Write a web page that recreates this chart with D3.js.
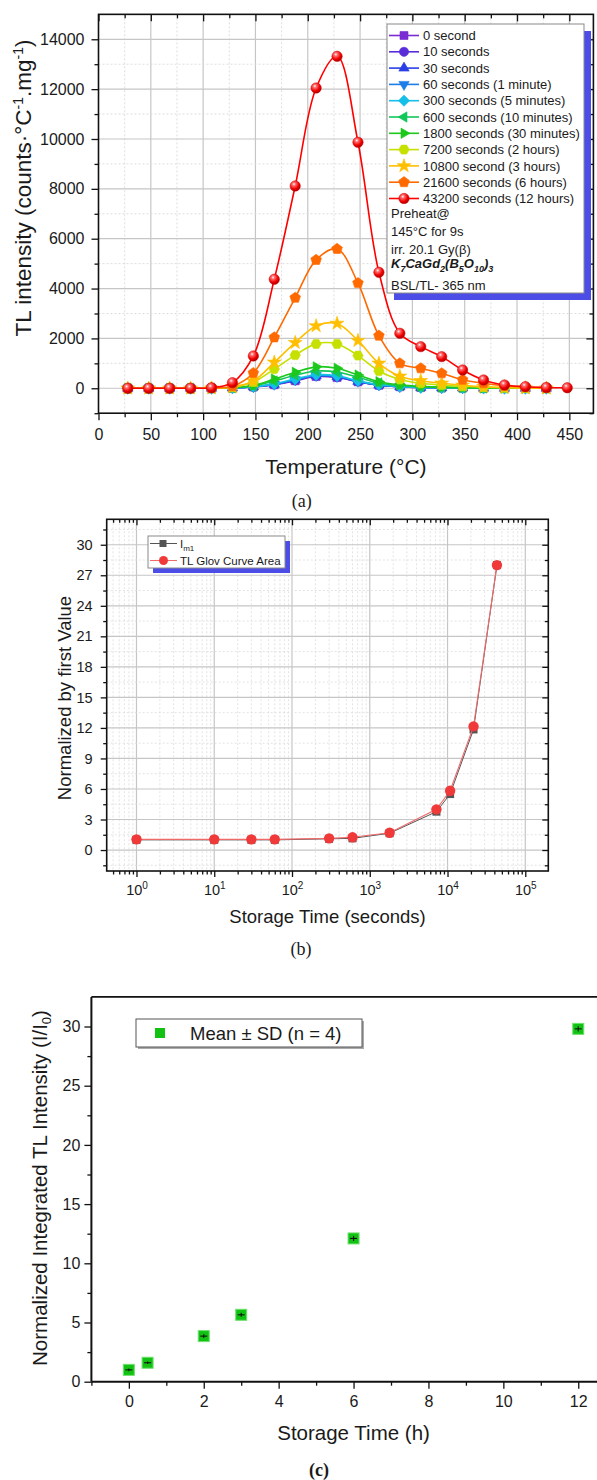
<!DOCTYPE html>
<html><head><meta charset="utf-8">
<script src="https://cdn.jsdelivr.net/npm/d3@7"></script>
<style>
body{margin:0;background:#fff}
svg{display:block}
</style>
</head><body>
<svg id="fig" width="597" height="1480" font-family="'Liberation Sans', Arial, sans-serif" fill="#1a1a1a"></svg>
<script>
// ---------------- DATA ----------------
// Panel (a): TL glow curves
const temps = [28,48,68,88,108,128,148,168,188,208,228,248,268,288,308,328,348,368,388,408,428];
const tempsRed = [28,48,68,88,108,128,148,168,188,208,228,248,268,288,308,328,348,368,388,408,428,448];
const tl0s     = [0,0,0,0,0,10,50,140,300,470,430,260,120,60,30,20,10,5,0,0,0];
const tl10s    = [0,0,0,0,0,12,55,150,320,490,450,270,125,62,32,20,10,5,0,0,0];
const tl30s    = [0,0,0,0,0,12,58,155,330,500,460,275,128,64,33,21,11,5,0,0,0];
const tl60s    = [0,0,0,0,0,13,60,160,340,510,470,280,130,66,34,22,12,6,0,0,0];
const tl300s   = [0,0,0,0,0,15,65,175,370,540,500,300,140,70,36,23,12,6,0,0,0];
const tl600s   = [0,0,0,0,0,20,90,290,520,690,650,440,215,110,60,35,20,10,5,0,0];
const tl1800s  = [0,0,0,0,0,25,110,370,640,860,800,530,265,140,75,45,25,12,5,0,0];
const tl7200s  = [0,0,0,0,5,40,250,770,1330,1780,1780,1310,690,350,200,130,80,45,20,10,0];
const tl10800s = [0,0,0,0,5,50,290,1040,1830,2500,2600,1910,1000,480,300,200,120,60,30,10,0];
const tl21600s = [0,0,0,0,10,80,610,2040,3630,5150,5590,4220,2110,1000,800,600,340,200,100,50,20];
const tl43200s = [0,0,0,0,20,225,1296,4372,8115,12046,13317,9868,4653,2206,1669,1268,734,333,132,64,30,20];
const seriesNames = ["0 second","10 seconds","30 seconds","60 seconds (1 minute)","300 seconds (5 minutes)",
  "600 seconds (10 minutes)","1800 seconds (30 minutes)","7200 seconds (2 hours)","10800 second (3 hours)",
  "21600 seconds (6 hours)","43200 seconds (12 hours)"];
const seriesColors = ["#7a2bd2","#5a2cd8","#2a40e6","#1d7de8","#14bfe8","#12c75a","#1cc81c","#c6e000","#ffbf00","#ff6a00","#ff0000"];
const seriesShapes = ["square","circle","triUp","triDown","diamond","triLeft","triRight","hexagon","star","pentagon","sphere"];
const xTicksA = [0,50,100,150,200,250,300,350,400,450];
const yTicksA = [0,2000,4000,6000,8000,10000,12000,14000];
const legendNotes = ["Preheat@","145°C for 9s","irr. 20.1 Gy(β)"];

// Panel (b): normalized values
const storageSec = [1,10,30,60,300,600,1800,7200,10800,21600,43200];
const im1 =        [1.0,1.0,1.0,1.0,1.1,1.15,1.65,3.77,5.5,11.85,28.0];
const glowArea =   [1.05,1.05,1.05,1.05,1.15,1.25,1.7,4.0,5.83,12.15,28.0];
const yTicksB = [0,3,6,9,12,15,18,21,24,27,30];
const xTicksB = [1,10,100,1000,10000,100000];

// Panel (c): normalized integrated intensity
const hours = [0,0.5,2,3,6,12];
const meanNorm = [1.0,1.6,3.85,5.65,12.1,29.8];
const sdNorm = [0.2,0.2,0.25,0.25,0.3,0.3];
const xTicksC = [0,2,4,6,8,10,12];
const yTicksC = [0,5,10,15,20,25,30];

// ---------------- HELPERS ----------------
const SANS = "'Liberation Sans', Arial, sans-serif";
const SERIF = "'Liberation Serif', 'Times New Roman', serif";
const svg = d3.select("#fig");
const defs = svg.append("defs");
const rg = defs.append("radialGradient").attr("id","sphere").attr("cx","38%").attr("cy","32%").attr("r","70%");
rg.append("stop").attr("offset","0%").attr("stop-color","#ffffff");
rg.append("stop").attr("offset","22%").attr("stop-color","#ff7070");
rg.append("stop").attr("offset","65%").attr("stop-color","#f20000");
rg.append("stop").attr("offset","100%").attr("stop-color","#a80000");

function poly(n, r, rot){
  const p=[];
  for(let i=0;i<n;i++){const a=rot+i*2*Math.PI/n;p.push([r*Math.cos(a),r*Math.sin(a)]);}
  return "M"+p.map(q=>q[0].toFixed(2)+","+q[1].toFixed(2)).join("L")+"Z";
}
function shapePath(s){
  switch(s){
    case "square": return d3.symbol(d3.symbolSquare,64)();
    case "circle": return d3.symbol(d3.symbolCircle,66)();
    case "triUp": return poly(3,6,-Math.PI/2);
    case "triDown": return poly(3,6,Math.PI/2);
    case "triLeft": return poly(3,6,Math.PI);
    case "triRight": return poly(3,6,0);
    case "diamond": return poly(4,5.6,-Math.PI/2);
    case "hexagon": return poly(6,5.2,0);
    case "pentagon": return poly(5,5.6,-Math.PI/2);
    case "star": return d3.symbol(d3.symbolStar,60)();
    default: return d3.symbol(d3.symbolCircle,80)();
  }
}
function drawMarker(g, shape, color, x, y){
  if(shape==="sphere"){
    g.append("circle").attr("cx",x).attr("cy",y).attr("r",5.2).attr("fill","url(#sphere)").attr("stroke","#d00000").attr("stroke-width",0.5);
  } else {
    g.append("path").attr("d",shapePath(shape)).attr("transform",`translate(${x},${y})`).attr("fill",color).attr("stroke",color).attr("stroke-width",0.6);
  }
}
function styleAxis(g, fs){
  g.attr("font-family",null).attr("font-size",null);
  g.select(".domain").remove();
  g.selectAll(".tick line").attr("stroke","#111").attr("stroke-width",1.3);
  g.selectAll(".tick text").attr("font-size",fs).attr("font-family",SANS).attr("fill","#1a1a1a");
}

// ---------------- PANEL (a) ----------------
const A = {l:98.5, r:593.4, t:14.35, b:413.2};
const xa = d3.scaleLinear().domain([0,473]).range([A.l,A.r]);
const ya = d3.scaleLinear().domain([-1000,15000]).range([A.b,A.t]);
const gA = svg.append("g");
defs.append("clipPath").attr("id","clipA").append("rect").attr("x",A.l).attr("y",A.t).attr("width",A.r-A.l).attr("height",A.b-A.t);

gA.append("g").selectAll("line").data(d3.range(25,473,25)).join("line")
  .attr("x1",d=>xa(d)).attr("x2",d=>xa(d)).attr("y1",A.t).attr("y2",A.b)
  .attr("stroke",d=>d%50===0?"#c6c6c6":"#dadada").attr("stroke-width",d=>d%50===0?1.2:0.9)
  .attr("stroke-dasharray",d=>d%50===0?null:"2,2");
gA.append("g").selectAll("line").data(d3.range(0,15000,1000)).join("line")
  .attr("y1",d=>ya(d)).attr("y2",d=>ya(d)).attr("x1",A.l).attr("x2",A.r)
  .attr("stroke",d=>d%2000===0?"#c6c6c6":"#dadada").attr("stroke-width",d=>d%2000===0?1.2:0.9)
  .attr("stroke-dasharray",d=>d%2000===0?null:"2,2");

const seriesA = [tl0s,tl10s,tl30s,tl60s,tl300s,tl600s,tl1800s,tl7200s,tl10800s,tl21600s,tl43200s].map((v,i)=>({
  name:seriesNames[i], color:seriesColors[i], shape:seriesShapes[i], x: i===10?tempsRed:temps, y:v}));
const lineA = d3.line().x(d=>xa(d[0])).y(d=>ya(d[1])).curve(d3.curveCatmullRom.alpha(0.5));
const plotA = gA.append("g").attr("clip-path","url(#clipA)");
seriesA.forEach(s=>{
  const pts = s.x.map((t,i)=>[t,s.y[i]]);
  plotA.append("path").attr("d",lineA(pts)).attr("fill","none").attr("stroke",s.color).attr("stroke-width",1.6);
  const mg = plotA.append("g");
  pts.forEach(p=>drawMarker(mg,s.shape,s.color,xa(p[0]),ya(p[1])));
});

// axes (a)
const fmtInt = d3.format("d");
gA.append("g").attr("transform",`translate(0,${A.b})`).call(d3.axisBottom(xa).tickValues(xTicksA).tickSize(7).tickPadding(8).tickFormat(fmtInt)).call(g=>styleAxis(g,16));
gA.append("g").attr("transform",`translate(0,${A.b})`).call(d3.axisBottom(xa).tickValues(d3.range(25,473,50)).tickSize(4).tickFormat("")).call(g=>styleAxis(g,16));
gA.append("g").attr("transform",`translate(${A.l},0)`).call(d3.axisLeft(ya).tickValues(yTicksA).tickSize(7).tickPadding(7).tickFormat(fmtInt)).call(g=>styleAxis(g,16));
gA.append("g").attr("transform",`translate(${A.l},0)`).call(d3.axisLeft(ya).tickValues(d3.range(-1000,15000,2000)).tickSize(4).tickFormat("")).call(g=>styleAxis(g,16));
gA.append("g").attr("transform",`translate(0,${A.t})`).call(d3.axisTop(xa).tickValues(xTicksA).tickSize(-7).tickFormat("")).call(g=>styleAxis(g,16));
gA.append("g").attr("transform",`translate(0,${A.t})`).call(d3.axisTop(xa).tickValues(d3.range(25,473,50)).tickSize(-4).tickFormat("")).call(g=>styleAxis(g,16));
gA.append("g").attr("transform",`translate(${A.r},0)`).call(d3.axisRight(ya).tickValues(yTicksA).tickSize(-7).tickFormat("")).call(g=>styleAxis(g,16));
gA.append("g").attr("transform",`translate(${A.r},0)`).call(d3.axisRight(ya).tickValues(d3.range(-1000,15000,2000)).tickSize(-4).tickFormat("")).call(g=>styleAxis(g,16));
gA.append("rect").attr("x",A.l).attr("y",A.t).attr("width",A.r-A.l).attr("height",A.b-A.t).attr("fill","none").attr("stroke","#111").attr("stroke-width",1.6);

// titles (a)
gA.append("text").attr("x",(A.l+A.r)/2).attr("y",467).attr("dy","0.35em").attr("text-anchor","middle").attr("font-size",21).text("Temperature (°C)");
const yta = gA.append("text").attr("transform","translate(23,188) rotate(-90)").attr("text-anchor","middle").attr("dy","0.35em").attr("font-size",22.5);
yta.append("tspan").text("TL intensity (counts·°C");
yta.append("tspan").attr("dy",-8).attr("font-size",14).text("-1");
yta.append("tspan").attr("dy",8).text(".mg");
yta.append("tspan").attr("dy",-8).attr("font-size",14).text("-1");
yta.append("tspan").attr("dy",8).text(")");

// legend (a)
const LA = {x:387, y:24, w:197, h:269};
gA.append("rect").attr("x",LA.x+7).attr("y",LA.y+7).attr("width",LA.w).attr("height",LA.h).attr("fill","#4c4ce6");
gA.append("rect").attr("x",LA.x).attr("y",LA.y).attr("width",LA.w).attr("height",LA.h).attr("fill","#fff").attr("stroke","#8a8a8a").attr("stroke-width",1);
seriesA.forEach((s,i)=>{
  const yy = 35.5 + i*16.3;
  gA.append("line").attr("x1",389).attr("x2",419).attr("y1",yy).attr("y2",yy).attr("stroke",s.color).attr("stroke-width",1.6);
  drawMarker(gA,s.shape,s.color,404,yy);
  gA.append("text").attr("x",423).attr("y",yy).attr("dy","0.36em").attr("font-size",13).text(s.name);
});
legendNotes.forEach((t,i)=>{
  gA.append("text").attr("x",391).attr("y",213.5+i*18).attr("dy","0.36em").attr("font-size",13).text(t);
});
const form = gA.append("text").attr("x",391).attr("y",267.5).attr("dy","0.36em").attr("font-size",13).attr("font-weight","bold").attr("font-style","italic");
[["K",0],["7",1],["CaGd",0],["2",1],["(B",0],["5",1],["O",0],["10",1],[")",0],["3",1]].forEach((p,i,arr)=>{
  const prev = i>0?arr[i-1][1]:0;
  form.append("tspan").attr("dy",(p[1]-prev)*4).attr("font-size",p[1]?9:13).text(p[0]);
});
gA.append("text").attr("x",391).attr("y",285.5).attr("dy","0.36em").attr("font-size",13).text("BSL/TL- 365 nm");

svg.append("text").attr("x",301.7).attr("y",501).attr("dy","0.35em").attr("text-anchor","middle")
  .attr("font-family",SERIF).attr("font-size",18).text("(a)");

// ---------------- PANEL (b) ----------------
const B = {l:106.7, r:548.3, t:519.3, b:871};
const xb = d3.scaleLog().domain([Math.pow(10,-0.383),Math.pow(10,5.296)]).range([B.l,B.r]);
const yb = d3.scaleLinear().domain([-2.06,32.5]).range([B.b,B.t]);
const gB = svg.append("g");
const minorLog = [];
for(let e=-1;e<=5;e++) for(let m=2;m<=9;m++){const v=m*Math.pow(10,e); if(v>xb.domain()[0]&&v<xb.domain()[1]) minorLog.push(v);}
gB.append("g").selectAll("line").data(minorLog).join("line")
  .attr("x1",d=>xb(d)).attr("x2",d=>xb(d)).attr("y1",B.t).attr("y2",B.b)
  .attr("stroke","#dcdcdc").attr("stroke-width",0.8).attr("stroke-dasharray","2,2");
gB.append("g").selectAll("line").data(xTicksB).join("line")
  .attr("x1",d=>xb(d)).attr("x2",d=>xb(d)).attr("y1",B.t).attr("y2",B.b)
  .attr("stroke","#c6c6c6").attr("stroke-width",1.2);
const yMinorB = d3.range(-1.5,32,3);
gB.append("g").selectAll("line").data(yMinorB).join("line")
  .attr("y1",d=>yb(d)).attr("y2",d=>yb(d)).attr("x1",B.l).attr("x2",B.r)
  .attr("stroke","#dcdcdc").attr("stroke-width",0.8).attr("stroke-dasharray","2,2");
gB.append("g").selectAll("line").data(yTicksB).join("line")
  .attr("y1",d=>yb(d)).attr("y2",d=>yb(d)).attr("x1",B.l).attr("x2",B.r)
  .attr("stroke","#c6c6c6").attr("stroke-width",1.2);

const lineB = d3.line().x(d=>xb(d[0])).y(d=>yb(d[1]));
const ptsIm = storageSec.map((t,i)=>[t,im1[i]]);
const ptsGa = storageSec.map((t,i)=>[t,glowArea[i]]);
gB.append("path").attr("d",lineB(ptsIm)).attr("fill","none").attr("stroke","#555").attr("stroke-width",1);
gB.append("g").selectAll("rect").data(ptsIm).join("rect")
  .attr("x",d=>xb(d[0])-4).attr("y",d=>yb(d[1])-4).attr("width",8).attr("height",8).attr("fill","#555");
gB.append("path").attr("d",lineB(ptsGa)).attr("fill","none").attr("stroke","#f06a6a").attr("stroke-width",1.1);
gB.append("g").selectAll("circle").data(ptsGa).join("circle")
  .attr("cx",d=>xb(d[0])).attr("cy",d=>yb(d[1])).attr("r",5.2).attr("fill","#f03a3a");

gB.append("g").attr("transform",`translate(0,${B.b})`).call(d3.axisBottom(xb).tickValues(xTicksB).tickSize(6).tickPadding(8).tickFormat(d=>""))
  .call(g=>styleAxis(g,14.5))
  .call(g=>g.selectAll(".tick text").each(function(d){
     const t=d3.select(this); const e=Math.round(Math.log10(d));
     t.append("tspan").text("10"); t.append("tspan").attr("dy",-6).attr("font-size",10).text(e);
  }));
gB.append("g").attr("transform",`translate(0,${B.b})`).call(d3.axisBottom(xb).tickValues(minorLog).tickSize(3.5).tickFormat("")).call(g=>styleAxis(g,14));
gB.append("g").attr("transform",`translate(${B.l},0)`).call(d3.axisLeft(yb).tickValues(yTicksB).tickSize(6).tickPadding(8)).call(g=>styleAxis(g,14.5));
gB.append("g").attr("transform",`translate(${B.l},0)`).call(d3.axisLeft(yb).tickValues(yMinorB).tickSize(3.5).tickFormat("")).call(g=>styleAxis(g,14));
gB.append("g").attr("transform",`translate(0,${B.t})`).call(d3.axisTop(xb).tickValues(xTicksB).tickSize(-6).tickFormat("")).call(g=>styleAxis(g,14));
gB.append("g").attr("transform",`translate(0,${B.t})`).call(d3.axisTop(xb).tickValues(minorLog).tickSize(-3.5).tickFormat("")).call(g=>styleAxis(g,14));
gB.append("g").attr("transform",`translate(${B.r},0)`).call(d3.axisRight(yb).tickValues(yTicksB).tickSize(-6).tickFormat("")).call(g=>styleAxis(g,14));
gB.append("g").attr("transform",`translate(${B.r},0)`).call(d3.axisRight(yb).tickValues(yMinorB).tickSize(-3.5).tickFormat("")).call(g=>styleAxis(g,14));
gB.append("rect").attr("x",B.l).attr("y",B.t).attr("width",B.r-B.l).attr("height",B.b-B.t).attr("fill","none").attr("stroke","#111").attr("stroke-width",1.6);

gB.append("text").attr("x",(B.l+B.r)/2).attr("y",917).attr("dy","0.35em").attr("text-anchor","middle").attr("font-size",18.5).text("Storage Time (seconds)");
gB.append("text").attr("transform","translate(65,698) rotate(-90)").attr("dy","0.35em").attr("text-anchor","middle").attr("font-size",18.5).text("Normalized by first Value");

// legend (b)
const LB = {x:148, y:536, w:137, h:32};
gB.append("rect").attr("x",LB.x+5).attr("y",LB.y+5).attr("width",LB.w).attr("height",LB.h).attr("fill","#4c4ce6");
gB.append("rect").attr("x",LB.x).attr("y",LB.y).attr("width",LB.w).attr("height",LB.h).attr("fill","#fff").attr("stroke","#8a8a8a");
gB.append("line").attr("x1",150).attr("x2",177).attr("y1",543.5).attr("y2",543.5).attr("stroke","#555");
gB.append("rect").attr("x",159.5).attr("y",540).attr("width",7).attr("height",7).attr("fill","#555");
const lt = gB.append("text").attr("x",180).attr("y",543.5).attr("dy","0.36em").attr("font-size",11.5);
lt.append("tspan").text("I"); lt.append("tspan").attr("dy",3).attr("font-size",8).text("m1");
gB.append("line").attr("x1",150).attr("x2",177).attr("y1",560.5).attr("y2",560.5).attr("stroke","#f06a6a");
gB.append("circle").attr("cx",163.5).attr("cy",560.5).attr("r",4.5).attr("fill","#f03a3a");
gB.append("text").attr("x",180).attr("y",560.5).attr("dy","0.36em").attr("font-size",11.5).text("TL Glov Curve Area");

svg.append("text").attr("x",301).attr("y",949).attr("dy","0.35em").attr("text-anchor","middle")
  .attr("font-family",SERIF).attr("font-size",18).text("(b)");

// ---------------- PANEL (c) ----------------
const C = {l:91.4, r:615.7, t:996.9, b:1381.7};
const xc = d3.scaleLinear().domain([-1,13]).range([C.l,C.r]);
const yc = d3.scaleLinear().domain([0,32.5]).range([C.b,C.t]);
const gC = svg.append("g");
gC.append("line").attr("x1",C.l).attr("x2",C.r).attr("y1",C.t).attr("y2",C.t).attr("stroke","#111").attr("stroke-width",1.6);
gC.append("line").attr("x1",C.r).attr("x2",C.r).attr("y1",C.t).attr("y2",C.b).attr("stroke","#111").attr("stroke-width",1.6);
gC.append("g").attr("transform",`translate(0,${C.b})`).call(d3.axisBottom(xc).tickValues(xTicksC).tickSize(7).tickPadding(7)).call(g=>styleAxis(g,16));
gC.append("g").attr("transform",`translate(0,${C.b})`).call(d3.axisBottom(xc).tickValues(d3.range(-1,13,2)).tickSize(4).tickFormat("")).call(g=>styleAxis(g,16));
gC.append("g").attr("transform",`translate(${C.l},0)`).call(d3.axisLeft(yc).tickValues(yTicksC).tickSize(7).tickPadding(4)).call(g=>styleAxis(g,16));
gC.append("g").attr("transform",`translate(${C.l},0)`).call(d3.axisLeft(yc).tickValues(d3.range(2.5,32.5,5)).tickSize(4).tickFormat("")).call(g=>styleAxis(g,16));
gC.append("line").attr("x1",C.l).attr("x2",C.r).attr("y1",C.b).attr("y2",C.b).attr("stroke","#111").attr("stroke-width",2);
gC.append("line").attr("x1",C.l).attr("x2",C.l).attr("y1",C.t).attr("y2",C.b).attr("stroke","#111").attr("stroke-width",2);

const ptsC = hours.map((h,i)=>({h, m:meanNorm[i], sd:sdNorm[i]}));
const mC = gC.append("g");
mC.selectAll("rect").data(ptsC).join("rect")
  .attr("x",d=>xc(d.h)-5.5).attr("y",d=>yc(d.m)-5.5).attr("width",11).attr("height",11)
  .attr("fill","#12c212").attr("stroke","#6ee06e").attr("stroke-width",1);
mC.selectAll("line.v").data(ptsC).join("line").attr("class","v")
  .attr("x1",d=>xc(d.h)).attr("x2",d=>xc(d.h)).attr("y1",d=>yc(d.m-d.sd)-1).attr("y2",d=>yc(d.m+d.sd)+1)
  .attr("stroke","#111").attr("stroke-width",1.1);
mC.selectAll("line.h").data(ptsC).join("line").attr("class","h")
  .attr("x1",d=>xc(d.h)-3.5).attr("x2",d=>xc(d.h)+3.5).attr("y1",d=>yc(d.m)).attr("y2",d=>yc(d.m))
  .attr("stroke","#111").attr("stroke-width",1.1);

gC.append("text").attr("x",(C.l+C.r)/2).attr("y",1433).attr("dy","0.35em").attr("text-anchor","middle").attr("font-size",20.5).text("Storage Time (h)");
const ytc = gC.append("text").attr("transform","translate(40,1188) rotate(-90)").attr("dy","0.35em").attr("text-anchor","middle").attr("font-size",20.5);
ytc.append("tspan").text("Normalized Integrated TL Intensity (I/I");
ytc.append("tspan").attr("dy",4).attr("font-size",13).text("0");
ytc.append("tspan").attr("dy",-4).text(")");

// legend (c)
gC.append("rect").attr("x",138).attr("y",1021).attr("width",226).attr("height",28).attr("fill","#aaa");
gC.append("rect").attr("x",136).attr("y",1019).attr("width",226).attr("height",28).attr("fill","#fff").attr("stroke","#555").attr("stroke-width",1);
gC.append("rect").attr("x",155).attr("y",1028).attr("width",10).attr("height",10).attr("fill","#12c212");
gC.append("text").attr("x",190).attr("y",1033).attr("dy","0.36em").attr("font-size",18.5).text("Mean ± SD (n = 4)");

svg.append("text").attr("x",319).attr("y",1470).attr("dy","0.35em").attr("text-anchor","middle")
  .attr("font-family",SERIF).attr("font-weight","bold").attr("font-size",18).text("(c)");
</script>
</body></html>
